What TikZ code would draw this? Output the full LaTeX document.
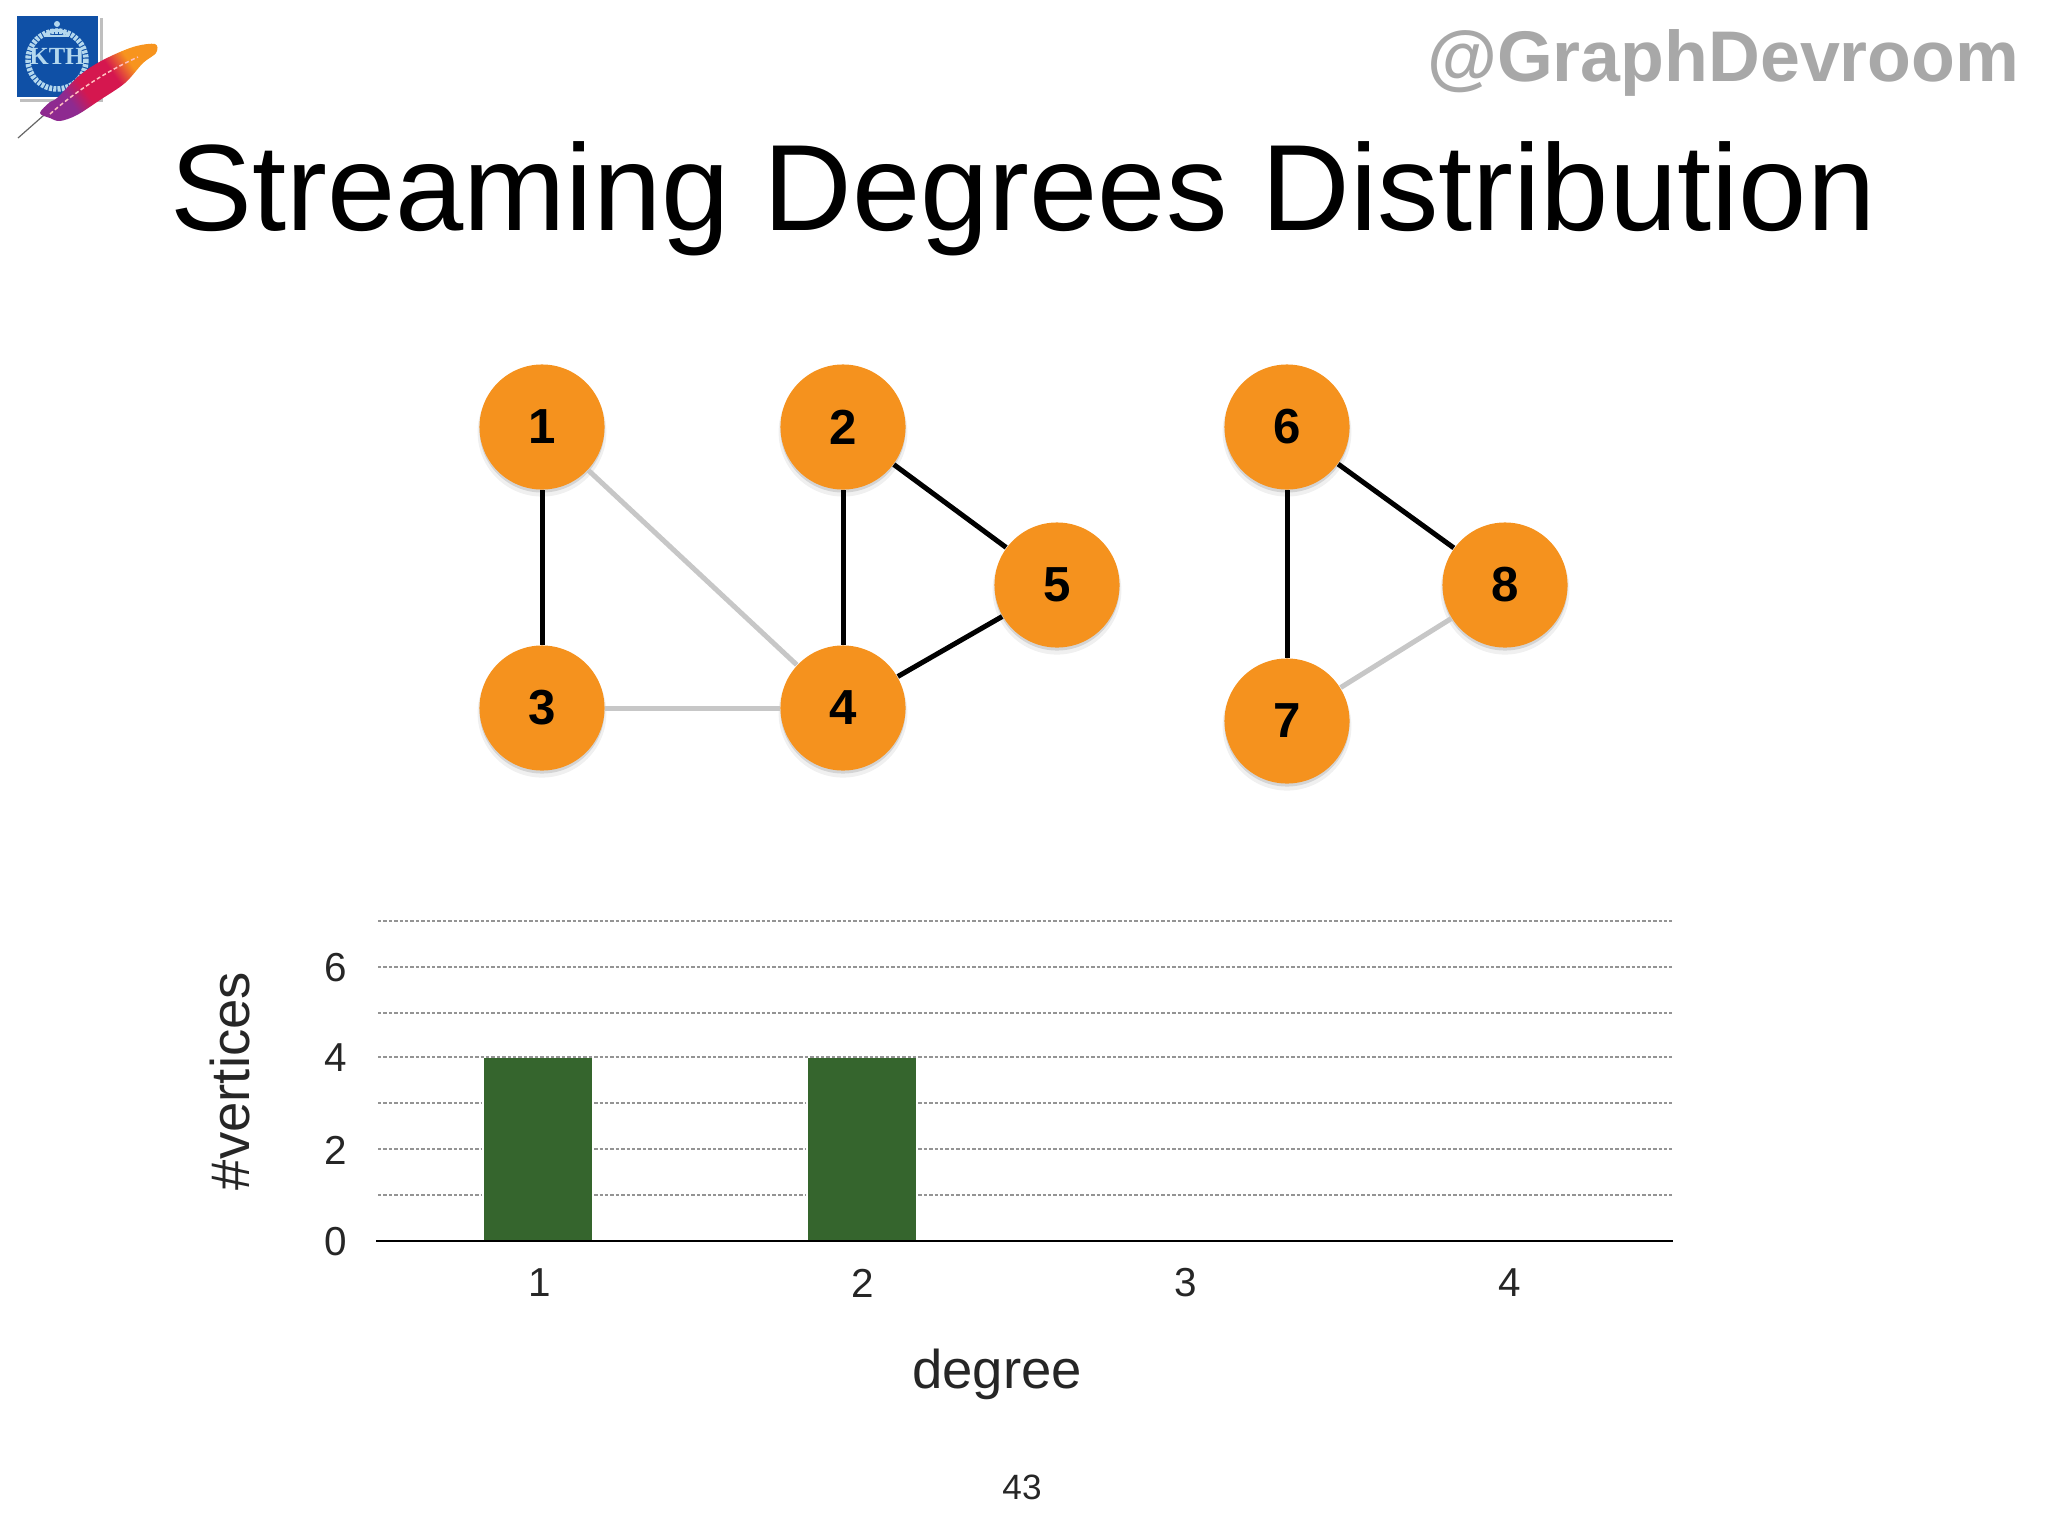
\documentclass[tikz,border=0pt]{standalone}
\usepackage{fontspec}
\setmainfont{Liberation Sans}
\newfontfamily\serifkth{Liberation Serif}
\usetikzlibrary{shapes,arrows,positioning,shadows}
\definecolor{vertexorange}{HTML}{F5921E}
\definecolor{barra}{HTML}{35652D}
\definecolor{kthblue}{HTML}{0F50A6}
\definecolor{kthring}{HTML}{B4D8EE}
\definecolor{plumaa}{HTML}{8E2A90}
\definecolor{plumab}{HTML}{D5174F}
\definecolor{plumac}{HTML}{F7941E}
\pgfdeclarehorizontalshading{pluma}{100bp}{color(0bp)=(plumaa); color(33bp)=(plumaa); color(42bp)=(plumab); color(58bp)=(plumab); color(68bp)=(plumac); color(100bp)=(plumac)}
\tikzstyle{vertex} = [circle, fill=vertexorange, minimum size=1.25cm, inner sep=0pt, font=\fontsize{14}{15}\selectfont\bfseries, drop shadow={opacity=0.12, shadow xshift=0pt, shadow yshift=-0.05cm, shadow scale=1.03}, drop shadow={opacity=0.25, shadow xshift=0pt, shadow yshift=-0.03cm}]
\tikzstyle{fuerte} = [draw=black, line width=0.05cm]
\tikzstyle{debil} = [draw=black!22, line width=0.05cm]
\tikzstyle{rejilla} = [draw=black!42, line width=0.014cm, dash pattern=on 0.034cm off 0.02cm]
\tikzstyle{ticklabel} = [inner sep=0pt, text=black!85, font=\fontsize{11.5}{12}\selectfont]
\tikzstyle{axistitle} = [inner sep=0pt, text=black!85, font=\fontsize{15.5}{16}\selectfont]
\begin{document}
\begin{tikzpicture}[x=0.01cm, y=-0.01cm]
	\useasboundingbox (0,0) rectangle (2048,1536);
	\fill[black!25] (20,18) rectangle (103,102);
	\fill[white] (15,14) rectangle (100,99);
	\fill[kthblue] (17,16) rectangle (98,97);
	\draw[kthring, line width=0.055cm, dash pattern=on 0.03cm off 0.012cm] (57,60) circle (29);
	\draw[kthring, line width=0.03cm] (45,36) to[bend left=55] (69,36);
	\draw[kthring, line width=0.025cm] (45,36) -- (69,36);
	\fill[kthring] (57,24) circle (3);
	\node[inner sep=0pt, text=kthring, font=\fontsize{7}{7}\serifkth\bfseries] (kth) at (57,56) {KTH};
	\draw[black!60, line width=0.012cm] (18,138) -- (52,108);
	\shade[shading=pluma, shading angle=35] plot[smooth cycle, tension=0.55] coordinates {(50,102) (57,98) (80,75) (103,60) (133,47) (155,44) (156,53) (143,63) (125,83) (100,100) (77,115) (60,121) (50,118) (40,113)};
	\draw[red!25!white, line width=0.015cm, dash pattern=on 0.04cm off 0.025cm] (50,114) .. controls (75,92) and (105,72) .. (138,57);

	\node[inner sep=0pt, text=black!34, anchor=east, font=\fontsize{20.4}{21}\selectfont\bfseries] (handle) at (2020,63) {@GraphDevroom};
	\node[inner sep=0pt, font=\fontsize{34.9}{36}\selectfont] (title) at (1023,199) {Streaming Degrees Distribution};

	\node[vertex] (v1) at (542,427) {1};
	\node[vertex] (v2) at (843,427) {2};
	\node[vertex] (v3) at (542,708) {3};
	\node[vertex] (v4) at (843,708) {4};
	\node[vertex] (v5) at (1057,585) {5};
	\node[vertex] (v6) at (1287,427) {6};
	\node[vertex] (v7) at (1287,721) {7};
	\node[vertex] (v8) at (1505,585) {8};
	\draw[fuerte] (v1) -- (v3);
	\draw[fuerte] (v2) -- (v4);
	\draw[fuerte] (v2) -- (v5);
	\draw[fuerte] (v4) -- (v5);
	\draw[fuerte] (v6) -- (v7);
	\draw[fuerte] (v6) -- (v8);
	\draw[debil] (v1) -- (v4);
	\draw[debil] (v3) -- (v4);
	\draw[debil] (v7) -- (v8);

	\foreach \y in {921,967,1013,1057,1103,1149,1195}
		\draw[rejilla] (378,\y) -- (1672,\y);
	\fill[white] (482,1058) rectangle (594,1241);
	\fill[white] (806,1058) rectangle (918,1241);
	\fill[barra] (484,1058) rectangle (592,1241);
	\fill[barra] (808,1058) rectangle (916,1241);
	\coordinate (axisstart) at (376,1241);
	\coordinate (axisend) at (1673,1241);
	\draw[black, line width=0.02cm] (axisstart) -- (axisend);

	\foreach \y/\lab in {1242/0,1150/2,1058/4,968/6}
		\node[ticklabel] (y\lab) at (336,\y) {\lab};
	\foreach \x/\lab in {540/1,863/2,1186/3,1510/4}
		\node[ticklabel] (x\lab) at (\x,1283) {\lab};
	\node[axistitle, rotate=90] (ylabel) at (230,1081) {\#vertices};
	\node[axistitle] (xlabel) at (997,1374) {degree};
	\node[inner sep=0pt, text=black!85, font=\fontsize{10}{11}\selectfont] (pagenum) at (1022,1487) {43};
\end{tikzpicture}
\end{document}
